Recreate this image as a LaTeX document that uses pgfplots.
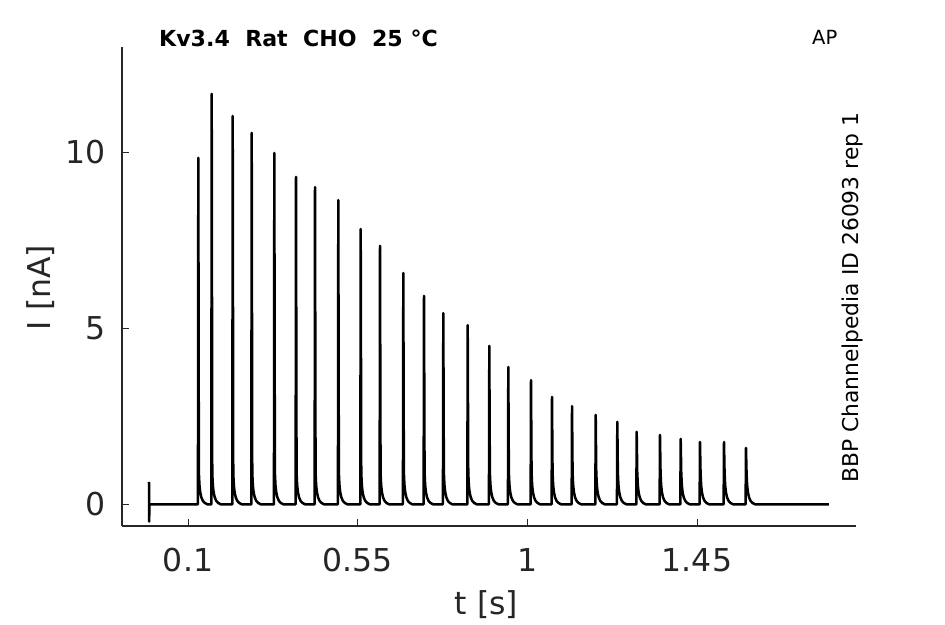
\documentclass[border=0pt]{standalone}
\usepackage{fontspec}
\setmainfont{DejaVu Sans}
\usepackage{pgfplots}
\pgfplotsset{compat=1.18}
\definecolor{axgray}{RGB}{38,38,38}
\begin{document}
\begin{tikzpicture}[x=1pt,y=1pt]
\path[use as bounding box] (0,0) rectangle (945,624);
\begin{axis}[
  at={(122pt,98pt)}, anchor=south west,
  scale only axis, width=734pt, height=479pt,
  xmin=-0.0751, xmax=1.8717, ymin=-0.616, ymax=12.99,
  axis x line*=bottom, axis y line*=left,
  axis line style={axgray, line width=1.2pt},
  xtick={0.1,0.55,1,1.45}, xticklabels={0.1,0.55,1,1.45},
  ytick={0,5,10},
  tick align=inside, major tick length=7pt,
  tick style={axgray, line width=1pt},
  ticklabel style={font=\fontsize{31.5}{36}\selectfont, text=axgray, inner sep=0pt},
  xticklabel style={anchor=base, yshift=-45.7pt},
  yticklabel style={anchor=east, xshift=-16pt},
  /pgf/number format/assume math mode=true,
]
\addplot[black, line width=2.5pt, line join=round] table {
x y
-0.0035 0.64
-0.0030 -0.49
-0.0025 0
0.1263 0
0.1273 9.84
0.1288 0.9
0.1303 0.55
0.1323 0.35
0.1353 0.2
0.1393 0.1
0.1443 0.04
0.1513 0
0.1618 0
0.1628 11.66
0.1643 0.9
0.1658 0.55
0.1678 0.35
0.1708 0.2
0.1748 0.1
0.1798 0.04
0.1868 0
0.2175 0
0.2185 11.03
0.2200 0.9
0.2215 0.55
0.2235 0.35
0.2265 0.2
0.2305 0.1
0.2355 0.04
0.2425 0
0.2679 0
0.2689 10.55
0.2704 0.9
0.2719 0.55
0.2739 0.35
0.2769 0.2
0.2809 0.1
0.2859 0.04
0.2929 0
0.3279 0
0.3289 9.98
0.3304 0.9
0.3319 0.55
0.3339 0.35
0.3369 0.2
0.3409 0.1
0.3459 0.04
0.3529 0
0.3854 0
0.3864 9.30
0.3879 0.9
0.3894 0.55
0.3914 0.35
0.3944 0.2
0.3984 0.1
0.4034 0.04
0.4104 0
0.4358 0
0.4368 9.01
0.4383 0.9
0.4398 0.55
0.4418 0.35
0.4448 0.2
0.4488 0.1
0.4538 0.04
0.4608 0
0.4976 0
0.4986 8.64
0.5001 0.9
0.5016 0.55
0.5036 0.35
0.5066 0.2
0.5106 0.1
0.5156 0.04
0.5226 0
0.5570 0
0.5580 7.82
0.5595 0.9
0.5610 0.55
0.5630 0.35
0.5660 0.2
0.5700 0.1
0.5750 0.04
0.5820 0
0.6082 0
0.6092 7.34
0.6107 0.9
0.6122 0.55
0.6142 0.35
0.6172 0.2
0.6212 0.1
0.6262 0.04
0.6332 0
0.6700 0
0.6710 6.57
0.6725 0.9
0.6740 0.55
0.6760 0.35
0.6790 0.2
0.6830 0.1
0.6880 0.04
0.6950 0
0.7249 0
0.7259 5.92
0.7274 0.9
0.7289 0.55
0.7309 0.35
0.7339 0.2
0.7379 0.1
0.7429 0.04
0.7499 0
0.7761 0
0.7771 5.43
0.7786 0.9
0.7801 0.55
0.7821 0.35
0.7851 0.2
0.7891 0.1
0.7941 0.04
0.8011 0
0.8408 0
0.8418 5.09
0.8433 0.9
0.8448 0.55
0.8468 0.35
0.8498 0.2
0.8538 0.1
0.8588 0.04
0.8658 0
0.8981 0
0.8991 4.50
0.9006 0.9
0.9021 0.55
0.9041 0.35
0.9071 0.2
0.9111 0.1
0.9161 0.04
0.9231 0
0.9485 0
0.9495 3.90
0.9510 0.9
0.9525 0.55
0.9545 0.35
0.9575 0.2
0.9615 0.1
0.9665 0.04
0.9735 0
1.0087 0
1.0097 3.53
1.0112 0.9
1.0127 0.55
1.0147 0.35
1.0177 0.2
1.0217 0.1
1.0267 0.04
1.0337 0
1.0644 0
1.0654 3.05
1.0669 0.9
1.0684 0.55
1.0704 0.35
1.0734 0.2
1.0774 0.1
1.0824 0.04
1.0894 0
1.1175 0
1.1185 2.79
1.1200 0.9
1.1215 0.55
1.1235 0.35
1.1265 0.2
1.1305 0.1
1.1355 0.04
1.1425 0
1.1803 0
1.1813 2.54
1.1828 0.9
1.1843 0.55
1.1863 0.35
1.1893 0.2
1.1933 0.1
1.1983 0.04
1.2053 0
1.2376 0
1.2386 2.34
1.2401 0.9
1.2416 0.55
1.2436 0.35
1.2466 0.2
1.2506 0.1
1.2556 0.04
1.2626 0
1.2890 0
1.2900 2.06
1.2915 0.9
1.2930 0.55
1.2950 0.35
1.2980 0.2
1.3020 0.1
1.3070 0.04
1.3140 0
1.3508 0
1.3518 1.97
1.3533 0.9
1.3548 0.55
1.3568 0.35
1.3598 0.2
1.3638 0.1
1.3688 0.04
1.3758 0
1.4057 0
1.4067 1.86
1.4082 0.9
1.4097 0.55
1.4117 0.35
1.4147 0.2
1.4187 0.1
1.4237 0.04
1.4307 0
1.4569 0
1.4579 1.77
1.4594 0.9
1.4609 0.55
1.4629 0.35
1.4659 0.2
1.4699 0.1
1.4749 0.04
1.4819 0
1.5206 0
1.5216 1.77
1.5231 0.9
1.5246 0.55
1.5266 0.35
1.5296 0.2
1.5336 0.1
1.5386 0.04
1.5456 0
1.5789 0
1.5799 1.60
1.5814 0.9
1.5829 0.55
1.5849 0.35
1.5879 0.2
1.5919 0.1
1.5969 0.04
1.6039 0
1.8000 0
};
\end{axis}
\node[anchor=base west, inner sep=0pt, font=\bfseries\fontsize{22.1}{25}\selectfont] at (159,577.3) {Kv3.4\ \ Rat\ \ CHO\ \ 25 °C};
\node[anchor=base west, inner sep=0pt, font=\fontsize{19.5}{22}\selectfont] at (812,579) {AP};
\node[rotate=90, anchor=base west, inner sep=0pt, font=\fontsize{21.8}{26}\selectfont] at (858,141) {BBP Channelpedia ID 26093 rep 1};
\node[anchor=base, inner sep=0pt, text=axgray, font=\fontsize{31.5}{36}\selectfont] at (486.5,10) {t [s]};
\node[rotate=90, anchor=base, inner sep=0pt, text=axgray, font=\fontsize{31.5}{36}\selectfont] at (50.7,336.5) {I [nA]};
\end{tikzpicture}
\end{document}
